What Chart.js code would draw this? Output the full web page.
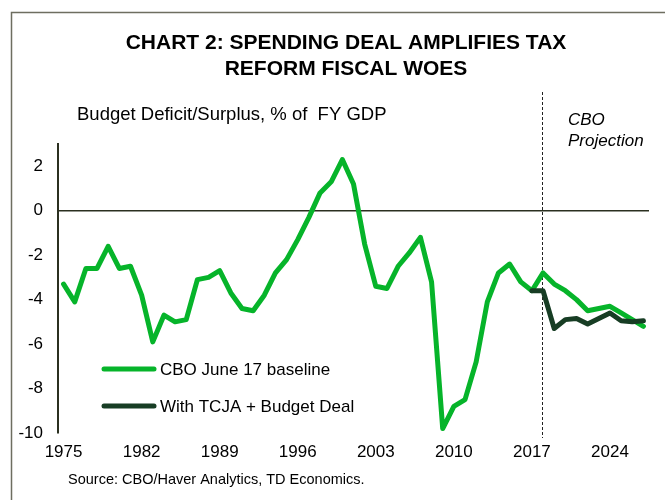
<!DOCTYPE html>
<html>
<head>
<meta charset="utf-8">
<script src="https://cdn.jsdelivr.net/npm/chart.js@4"></script>
<style>
  html, body { margin: 0; padding: 0; background: #fff; }
  #wrap { width: 665px; height: 500px; position: relative; }
</style>
</head>
<body>
<div id="wrap"><canvas id="deficitChart" width="665" height="500"></canvas></div>
<script>
// Budget balance, % of FY GDP
const years = [
  1975, 1976, 1977, 1978, 1979, 1980, 1981, 1982, 1983, 1984,
  1985, 1986, 1987, 1988, 1989, 1990, 1991, 1992, 1993, 1994,
  1995, 1996, 1997, 1998, 1999, 2000, 2001, 2002, 2003, 2004,
  2005, 2006, 2007, 2008, 2009, 2010, 2011, 2012, 2013, 2014,
  2015, 2016, 2017, 2018, 2019, 2020, 2021, 2022, 2023, 2024,
  2025, 2026, 2027
];
const baseline = [
  -3.3, -4.1, -2.6, -2.6, -1.6, -2.6, -2.5, -3.8, -5.9, -4.7,
  -5.0, -4.9, -3.1, -3.0, -2.7, -3.7, -4.4, -4.5, -3.8, -2.8,
  -2.2, -1.3, -0.3, 0.8, 1.3, 2.3, 1.2, -1.5, -3.4, -3.5,
  -2.5, -1.9, -1.2, -3.2, -9.8, -8.8, -8.5, -6.8, -4.1, -2.8,
  -2.4, -3.2, -3.6, -2.8, -3.3, -3.6, -4.0, -4.5, -4.4, -4.3,
  -4.6, -4.9, -5.2
];
// With TCJA + Budget Deal, 2017 onwards
const dealYears = [2017, 2018, 2019, 2020, 2021, 2022, 2023, 2024, 2025, 2026, 2027];
const dealValues = [-3.6, -3.6, -5.3, -4.9, -4.85, -5.1, -4.85, -4.6, -4.95, -5.0, -4.95];

const xTickYears = [1975, 1982, 1989, 1996, 2003, 2010, 2017, 2024];
const yTicks = [2, 0, -2, -4, -6, -8, -10];
const projectionStart = 2018;

const greenColor = '#06b42a';
const darkColor = '#173d24';
const fontFamily = '"Liberation Sans", Arial, sans-serif';

const dealSeries = years.map(function(y) {
    const i = dealYears.indexOf(y);
    return i >= 0 ? dealValues[i] : null;
});

// Texts, frame, projection marker and legend
const decorations = {
    id: 'decorations',
    beforeDraw: function(chart) {
        const ctx = chart.ctx;
        ctx.save();
        ctx.strokeStyle = '#6e6e60';
        ctx.lineWidth = 1.5;
        ctx.strokeRect(11.5, 12.5, 720, 600);
        ctx.restore();
    },
    beforeDatasetsDraw: function(chart) {
        const ctx = chart.ctx;
        const x = Math.round(chart.scales.x.getPixelForValue(years.indexOf(projectionStart))) - 0.5;
        ctx.save();
        ctx.strokeStyle = '#222';
        ctx.lineWidth = 1;
        ctx.setLineDash([3, 2]);
        ctx.beginPath();
        ctx.moveTo(x, 92);
        ctx.lineTo(x, chart.chartArea.bottom + 5);
        ctx.stroke();
        ctx.restore();
    },
    afterDraw: function(chart) {
        const ctx = chart.ctx;
        ctx.save();
        ctx.fillStyle = '#000';
        ctx.textBaseline = 'middle';

        ctx.textAlign = 'center';
        ctx.font = 'bold 21px ' + fontFamily;
        ctx.fillText('CHART 2: SPENDING DEAL AMPLIFIES TAX', 346, 43);
        ctx.fillText('REFORM FISCAL WOES', 346, 69);

        ctx.textAlign = 'left';
        ctx.font = '18.5px ' + fontFamily;
        ctx.fillText('Budget Deficit/Surplus, % of  FY GDP', 77, 115);

        ctx.font = 'italic 17px ' + fontFamily;
        ctx.fillText('CBO', 568, 120);
        ctx.fillText('Projection', 568, 141);

        ctx.font = '14.5px ' + fontFamily;
        ctx.fillText('Source: CBO/Haver Analytics, TD Economics.', 68, 480);

        // legend
        const items = [
            { label: 'CBO June 17 baseline', color: greenColor, y: 369 },
            { label: 'With TCJA + Budget Deal', color: darkColor, y: 406 }
        ];
        ctx.lineCap = 'round';
        ctx.lineWidth = 5;
        items.forEach(function(it) {
            ctx.strokeStyle = it.color;
            ctx.beginPath();
            ctx.moveTo(104, it.y);
            ctx.lineTo(154, it.y);
            ctx.stroke();
            ctx.font = '17px ' + fontFamily;
            ctx.fillText(it.label, 160, it.y + 1);
        });
        ctx.restore();
    }
};

new Chart(document.getElementById('deficitChart'), {
    type: 'line',
    data: {
        labels: years,
        datasets: [{
            label: 'With TCJA + Budget Deal',
            data: dealSeries,
            borderColor: darkColor,
            borderWidth: 5,
            pointRadius: 0,
            tension: 0,
            borderJoinStyle: 'round',
            borderCapStyle: 'round',
            spanGaps: false,
            order: 0
        }, {
            label: 'CBO June 17 baseline',
            data: baseline,
            borderColor: greenColor,
            borderWidth: 5,
            pointRadius: 0,
            tension: 0,
            borderJoinStyle: 'round',
            borderCapStyle: 'round',
            order: 1
        }]
    },
    options: {
        responsive: false,
        animation: false,
        layout: {
            padding: { left: 11, right: 16, top: 144, bottom: 37 }
        },
        plugins: {
            legend: { display: false },
            title: { display: false },
            tooltip: { enabled: false }
        },
        scales: {
            x: {
                type: 'category',
                offset: true,
                grid: { display: false, drawTicks: false },
                border: { display: false },
                ticks: {
                    autoSkip: false,
                    maxRotation: 0,
                    padding: 9,
                    color: '#000',
                    font: { family: fontFamily, size: 17 },
                    callback: function(value) {
                        const y = years[value];
                        return xTickYears.indexOf(y) >= 0 ? String(y) : '';
                    }
                },
                afterFit: function(scale) { scale.height = 30; }
            },
            y: {
                min: -10,
                max: 3,
                afterBuildTicks: function(scale) {
                    scale.ticks = yTicks.map(function(v) { return { value: v }; });
                },
                grid: {
                    drawTicks: false,
                    color: function(c) { return c.tick && c.tick.value === 0 ? '#2b3020' : 'rgba(0,0,0,0)'; },
                    lineWidth: 1.5
                },
                border: { display: true, color: '#2b3020', width: 2 },
                ticks: {
                    padding: 15,
                    color: '#000',
                    font: { family: fontFamily, size: 17 }
                },
                afterFit: function(scale) { scale.width = 47; }
            }
        }
    },
    plugins: [decorations]
});
</script>
</body>
</html>
